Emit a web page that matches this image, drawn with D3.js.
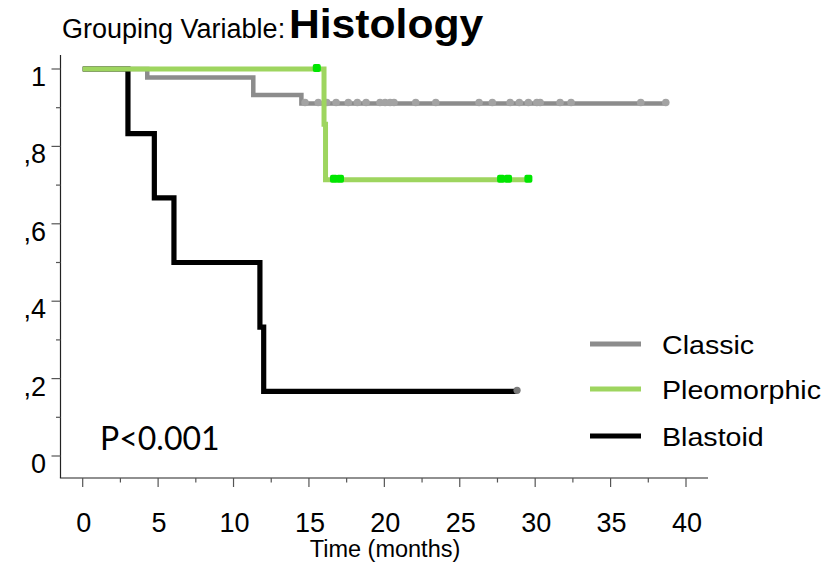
<!DOCTYPE html>
<html>
<head>
<meta charset="utf-8">
<script src="https://cdn.jsdelivr.net/npm/d3@7"></script>
<style>
  html, body { margin: 0; padding: 0; background: #fff; }
  svg { display: block; }
  text { font-family: "Liberation Sans", Arial, sans-serif; fill: #000; }
</style>
</head>
<body>
<svg id="chart" width="830" height="564"></svg>
<script>
// Kaplan–Meier curves by histology group
const groups = ["Classic", "Pleomorphic", "Blastoid"];
const groupColors = ["#8c8c8c", "#9ed55f", "#000000"];

// step times (months) and survival after each step
const classicTimes = [0, 4.28, 11.31, 14.5];
const classicSurv = [1, 0.978, 0.933, 0.911];
const classicEnd = 38.66;
const classicCensored = [14.74, 15.62, 16.18, 16.8, 17.61, 18.21, 18.79, 19.71, 20.05, 20.38, 20.64,
  22.08, 23.41, 26.28, 27.16, 28.34, 28.95, 29.55, 30.11, 30.33, 31.65, 32.38, 37.0, 38.66];

const pleoTimes = [0, 16.0, 16.1];
const pleoSurv = [1, 0.857, 0.714];
const pleoEnd = 29.55;
const pleoCensored = [15.52, 16.66, 17.06, 27.74, 28.2, 29.55];

const blastTimes = [0, 3.0, 4.75, 6.05, 11.75, 12.0];
const blastSurv = [1, 0.833, 0.667, 0.5, 0.333, 0.167];
const blastEnd = 28.8;
const blastCensored = [28.8];

const xTicks = [0, 5, 10, 15, 20, 25, 30, 35, 40];
const yTicks = [0, 0.2, 0.4, 0.6, 0.8, 1];
const yTickLabels = ["0", ",2", ",4", ",6", ",8", "1"];

const svg = d3.select("#chart");
const x = d3.scaleLinear().domain([0, 40]).range([82.7, 686]);
const y = d3.scaleLinear().domain([0, 1]).range([456, 69]);

const axisY = 478, axisX = 60.5;

// axes lines
svg.append("line").attr("x1", axisX).attr("x2", axisX).attr("y1", 55).attr("y2", axisY)
  .attr("stroke", "#222").attr("stroke-width", 1.2);
svg.append("line").attr("x1", axisX - 0.6).attr("x2", 708).attr("y1", axisY).attr("y2", axisY)
  .attr("stroke", "#222").attr("stroke-width", 1.2);

// x ticks (major every 5, minor every 2.5)
const xMinor = d3.range(2.5, 40, 5);
const xAxis = svg.append("g");
xAxis.selectAll("line.maj").data(xTicks).join("line")
  .attr("x1", d => x(d)).attr("x2", d => x(d)).attr("y1", axisY).attr("y2", axisY + 9)
  .attr("stroke", "#555").attr("stroke-width", 1.2);
xAxis.selectAll("line.min").data(xMinor).join("line")
  .attr("x1", d => x(d)).attr("x2", d => x(d)).attr("y1", axisY).attr("y2", axisY + 4.5)
  .attr("stroke", "#555").attr("stroke-width", 1.2);
xAxis.selectAll("text").data(xTicks).join("text")
  .attr("x", d => x(d) + 1).attr("y", 532)
  .attr("text-anchor", "middle").attr("font-size", 27)
  .text(d => d);

// y ticks (major every 0.2, minor every 0.1)
const yMinor = [0.1, 0.3, 0.5, 0.7, 0.9];
const yAxis = svg.append("g");
yAxis.selectAll("line.maj").data(yTicks).join("line")
  .attr("x1", axisX - 9).attr("x2", axisX).attr("y1", d => y(d)).attr("y2", d => y(d))
  .attr("stroke", "#555").attr("stroke-width", 1.2);
yAxis.selectAll("line.min").data(yMinor).join("line")
  .attr("x1", axisX - 4.5).attr("x2", axisX).attr("y1", d => y(d)).attr("y2", d => y(d))
  .attr("stroke", "#555").attr("stroke-width", 1.2);
yAxis.selectAll("text").data(yTicks).join("text")
  .attr("x", 46).attr("y", d => y(d) + 17)
  .attr("text-anchor", "end").attr("font-size", 27)
  .text((d, i) => yTickLabels[i]);

// axis title
svg.append("text").attr("x", 385).attr("y", 557).attr("text-anchor", "middle")
  .attr("font-size", 23.5).text("Time (months)");

// chart title
svg.append("text").attr("x", 62).attr("y", 38).attr("font-size", 27).text("Grouping Variable:");
svg.append("text").attr("transform", "translate(289,38) scale(1.04,1)")
  .attr("font-size", 41).attr("font-weight", "bold").text("Histology");

// survival step curves
const line = d3.line().x(d => x(d[0])).y(d => y(d[1])).curve(d3.curveStepAfter);
function stepPoints(times, surv, end) {
  const pts = times.map((t, i) => [t, surv[i]]);
  pts.push([end, surv[surv.length - 1]]);
  return pts;
}
function survAt(times, surv, t) {
  let s = surv[0];
  times.forEach((tt, i) => { if (tt <= t) s = surv[i]; });
  return s;
}

const plot = svg.append("g");

// Classic
plot.append("path").datum(stepPoints(classicTimes, classicSurv, classicEnd))
  .attr("d", line).attr("fill", "none").attr("stroke", groupColors[0]).attr("stroke-width", 4.5);
plot.selectAll("circle.cc").data(classicCensored).join("circle")
  .attr("cx", d => x(d)).attr("cy", d => y(survAt(classicTimes, classicSurv, d)) - 1)
  .attr("r", 3.8).attr("fill", "#a3a3a3");

// Blastoid
plot.append("path").datum(stepPoints(blastTimes, blastSurv, blastEnd))
  .attr("d", line).attr("fill", "none").attr("stroke", groupColors[2]).attr("stroke-width", 5.2);
plot.selectAll("circle.bc").data(blastCensored).join("circle")
  .attr("cx", d => x(d)).attr("cy", d => y(survAt(blastTimes, blastSurv, d)) - 1)
  .attr("r", 3.6).attr("fill", "#7a7a7a");

// Pleomorphic
plot.append("path").datum(stepPoints(pleoTimes, pleoSurv, pleoEnd))
  .attr("d", line).attr("fill", "none").attr("stroke", groupColors[1]).attr("stroke-width", 5);
plot.selectAll("rect.pc").data(pleoCensored).join("rect")
  .attr("x", d => x(d) - 4).attr("y", d => y(survAt(pleoTimes, pleoSurv, d)) - 5)
  .attr("width", 8).attr("height", 8).attr("rx", 2)
  .attr("fill", "#00e600");

// legend
const legend = svg.append("g");
const legendY = [344, 389, 436];
groups.forEach((g, i) => {
  legend.append("line").attr("x1", 590).attr("x2", 641)
    .attr("y1", legendY[i]).attr("y2", legendY[i])
    .attr("stroke", groupColors[i]).attr("stroke-width", 5.2);
  legend.append("text").attr("transform", `translate(662,${legendY[i] + 10}) scale(1.1,1)`)
    .attr("font-size", 26).text(g);
});

// log-rank p value
svg.append("text").attr("x", 100).attr("y", 450)
  .style("font-family", "Lato, 'Open Sans', sans-serif")
  .attr("font-size", 32).text("P<0.001");
</script>
</body>
</html>
